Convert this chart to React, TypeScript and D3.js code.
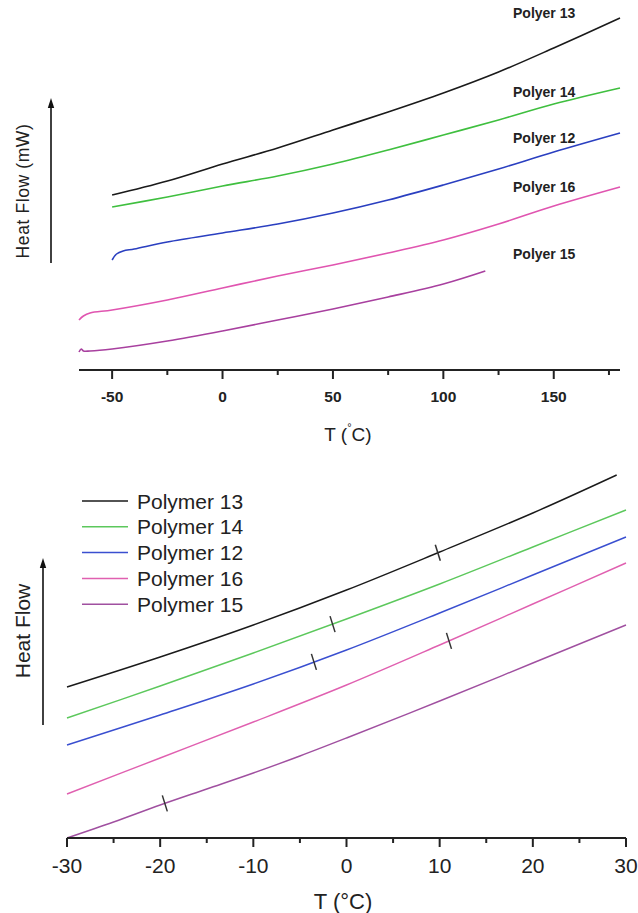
import React from "react";
import * as d3 from "d3";

type Pt = [number, number];

// ---------- Top panel data (T in °C, heat flow in arbitrary units) ----------
const topNames = ["Polyer 13", "Polyer 14", "Polyer 12", "Polyer 16", "Polyer 15"];
const topColors = ["#1a1a1a", "#3fbf3f", "#2a3fc0", "#e055b0", "#a8409f"];
const top13: Pt[] = [[-50, 17.5], [-25, 18.9], [0, 20.6], [25, 22.2], [50, 24.0], [75, 25.8], [100, 27.7], [125, 29.8], [150, 32.2], [180, 35.2]];
const top14: Pt[] = [[-50, 16.3], [-25, 17.3], [0, 18.4], [25, 19.4], [50, 20.6], [75, 22.0], [100, 23.5], [125, 25.0], [150, 26.6], [180, 28.2]];
const top12: Pt[] = [[-50, 11.0], [-48, 11.6], [-45, 11.9], [-40, 12.1], [-25, 12.8], [0, 13.7], [25, 14.6], [50, 15.7], [75, 17.0], [100, 18.5], [125, 20.1], [150, 21.8], [180, 23.7]];
const top16: Pt[] = [[-65, 5.0], [-63, 5.4], [-60, 5.7], [-50, 6.0], [-25, 7.0], [0, 8.2], [25, 9.4], [50, 10.5], [75, 11.7], [100, 13.0], [125, 14.6], [150, 16.4], [180, 18.3]];
const top15: Pt[] = [[-65, 1.8], [-64, 2.1], [-63, 1.9], [-60, 1.9], [-50, 2.1], [-25, 2.9], [0, 3.9], [25, 5.0], [50, 6.1], [75, 7.3], [100, 8.6], [119, 9.9]];
const topSeries = [top13, top14, top12, top16, top15];
const topLabelY = [35.7, 27.8, 23.2, 18.3, 11.6];
const topMajorTicks = [-50, 0, 50, 100, 150];
const topMinorTicks = [-25, 25, 75, 125, 175];

// ---------- Bottom panel data ----------
const botNames = ["Polymer 13", "Polymer 14", "Polymer 12", "Polymer 16", "Polymer 15"];
const botColors = ["#1a1a1a", "#5cc85c", "#3a4fd0", "#e060b0", "#a050a0"];
const bot13: Pt[] = [[-30, 15.1], [-20, 18.1], [-10, 21.3], [0, 24.8], [10, 28.6], [20, 32.5], [29, 36.3]];
const bot14: Pt[] = [[-30, 12.0], [-20, 15.2], [-10, 18.5], [0, 21.9], [10, 25.4], [20, 29.1], [30, 32.8]];
const bot12: Pt[] = [[-30, 9.3], [-20, 12.3], [-10, 15.4], [0, 18.8], [10, 22.5], [20, 26.3], [30, 30.1]];
const bot16: Pt[] = [[-30, 4.4], [-20, 8.0], [-10, 11.6], [0, 15.3], [10, 19.3], [20, 23.4], [30, 27.5]];
const bot15: Pt[] = [[-30, 0.0], [-25, 1.6], [-20, 3.3], [-15, 4.9], [-10, 6.5], [-5, 8.2], [0, 10.0], [10, 13.7], [20, 17.5], [30, 21.3]];
const botSeries = [bot13, bot14, bot12, bot16, bot15];
const botTg = [9.8, -1.5, -3.5, 11, -19.5];
const botMajorTicks = [-30, -20, -10, 0, 10, 20, 30];
const botMinorTicks = [-25, -15, -5, 5, 15, 25];

const interp = (pts: Pt[], t: number) => {
  for (let i = 0; i < pts.length - 1; i++) {
    const [x0, y0] = pts[i];
    const [x1, y1] = pts[i + 1];
    if (t >= x0 && t <= x1) return y0 + ((t - x0) / (x1 - x0)) * (y1 - y0);
  }
  return pts[pts.length - 1][1];
};

export default function App() {
  const W = 638, H = 913;
  const xT = d3.scaleLinear().domain([-65, 180]).range([79, 620]);
  const yT = d3.scaleLinear().domain([0, 37]).range([370, 0]);
  const lineT = d3.line<Pt>().x(d => xT(d[0])).y(d => yT(d[1])).curve(d3.curveCatmullRom.alpha(0.5));
  const xB = d3.scaleLinear().domain([-30, 30]).range([67, 626]);
  const yB = d3.scaleLinear().domain([0, 38]).range([838, 458]);
  const lineB = d3.line<Pt>().x(d => xB(d[0])).y(d => yB(d[1])).curve(d3.curveCatmullRom.alpha(0.5));

  const sans = "'Liberation Sans', Arial, Helvetica, sans-serif";
  const axisTopY = yT(0);
  const axisBotY = yB(0);

  const arrow = (x: number, yBot: number, yTop: number, k: string) => (
    <g key={k}>
      <line x1={x} x2={x} y1={yBot} y2={yTop + 6} stroke="#111" strokeWidth={1.6} />
      <path d={`M${x},${yTop} L${x + 3.2},${yTop + 10} L${x - 3.2},${yTop + 10} Z`} fill="#111" />
    </g>
  );

  return (
    <svg width={W} height={H} style={{ position: "absolute", left: 0, top: 0, background: "#fff" }} fontFamily={sans}>
      {/* ===== TOP PANEL ===== */}
      {topSeries.map((s, i) => (
        <path key={"t" + i} d={lineT(s) || ""} fill="none" stroke={topColors[i]} strokeWidth={1.6} />
      ))}
      {topNames.map((n, i) => (
        <text key={"tl" + i} x={513} y={yT(topLabelY[i])} dominantBaseline="central" fontSize={14} fontWeight="bold" fill="#222">{n}</text>
      ))}
      <line x1={xT.range()[0]} x2={xT.range()[1]} y1={axisTopY} y2={axisTopY} stroke="#222" strokeWidth={2} />
      {topMajorTicks.map(t => (
        <g key={"tm" + t}>
          <line x1={xT(t)} x2={xT(t)} y1={axisTopY} y2={axisTopY + 9} stroke="#222" strokeWidth={2} />
          <text x={xT(t)} y={axisTopY + 26} textAnchor="middle" dominantBaseline="central" fontSize={15.5} fontWeight="bold" fill="#222">{t}</text>
        </g>
      ))}
      {topMinorTicks.map(t => (
        <line key={"tn" + t} x1={xT(t)} x2={xT(t)} y1={axisTopY} y2={axisTopY + 5} stroke="#222" strokeWidth={2} />
      ))}
      <text x={348} y={434} textAnchor="middle" dominantBaseline="central" fontSize={19} fill="#222">
        T (<tspan fontSize={11} dy={-7}>°</tspan><tspan dy={7}>C)</tspan>
      </text>
      {arrow(51, 263, 98, "a1")}
      <text transform="translate(23,191) rotate(-90)" textAnchor="middle" dominantBaseline="central" fontSize={17.5} letterSpacing={0.6} fill="#222">Heat Flow (mW)</text>

      {/* ===== BOTTOM PANEL ===== */}
      {botSeries.map((s, i) => (
        <path key={"b" + i} d={lineB(s) || ""} fill="none" stroke={botColors[i]} strokeWidth={1.4} />
      ))}
      {botTg.map((t, i) => {
        const cx = xB(t), cy = yB(interp(botSeries[i], t));
        return <line key={"tg" + i} x1={cx - 2.5} y1={cy - 8} x2={cx + 2.5} y2={cy + 8} stroke="#333" strokeWidth={1.5} />;
      })}
      <line x1={xB.range()[0]} x2={xB.range()[1]} y1={axisBotY} y2={axisBotY} stroke="#222" strokeWidth={2} />
      {botMajorTicks.map(t => (
        <g key={"bm" + t}>
          <line x1={xB(t)} x2={xB(t)} y1={axisBotY} y2={axisBotY + 9} stroke="#222" strokeWidth={2} />
          <text x={xB(t)} y={axisBotY + 27} textAnchor="middle" dominantBaseline="central" fontSize={21} fill="#222">{t}</text>
        </g>
      ))}
      {botMinorTicks.map(t => (
        <line key={"bn" + t} x1={xB(t)} x2={xB(t)} y1={axisBotY} y2={axisBotY + 5} stroke="#222" strokeWidth={2} />
      ))}
      <text x={343} y={901} textAnchor="middle" dominantBaseline="central" fontSize={22} fill="#222">T (°C)</text>
      {arrow(43, 725, 558, "a2")}
      <text transform="translate(22,631) rotate(-90)" textAnchor="middle" dominantBaseline="central" fontSize={21} fill="#222">Heat Flow</text>
      {botNames.map((n, i) => {
        const yy = 501 + i * 25.8;
        return (
          <g key={"lg" + i}>
            <line x1={82} x2={128} y1={yy} y2={yy} stroke={botColors[i]} strokeWidth={1.5} />
            <text x={137} y={yy} dominantBaseline="central" fontSize={21} fill="#222">{n}</text>
          </g>
        );
      })}
    </svg>
  );
}
